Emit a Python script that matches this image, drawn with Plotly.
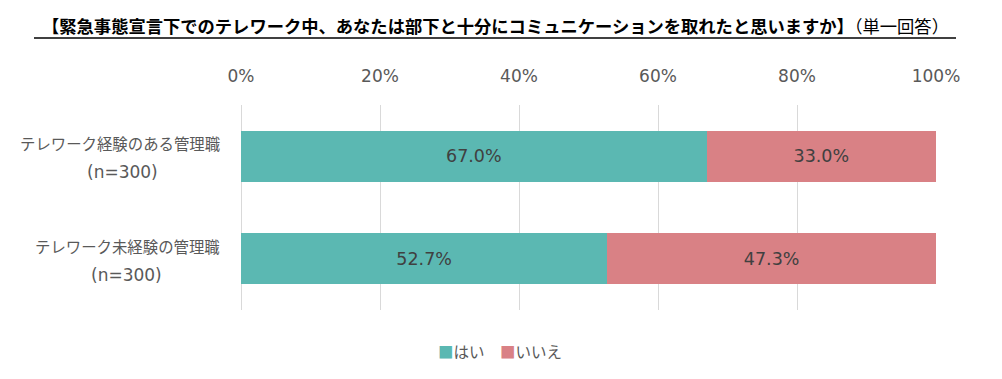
import plotly.graph_objects as go

cat_keys = ["経験あり", "未経験"]
cat_line1 = ["テレワーク経験のある管理職", "テレワーク未経験の管理職"]
cat_line2 = ["(n=300)", "(n=300)"]
yes_vals = [67.0, 52.7]
no_vals = [33.0, 47.3]
series_names = ["はい", "いいえ"]
tick_vals = [0, 20, 40, 60, 80, 100]
tick_text = ["0%", "20%", "40%", "60%", "80%", "100%"]

CJK = "Noto Sans CJK JP"
MIX = "DejaVu Sans, Noto Sans CJK JP"
GRAY = "#595959"
TEAL = "#5BB8B2"
PINK = "#D98185"

# page body has an 8px offset; layout below is in figure coordinates
L, R, T, B = 233, 74, 97, 77
W, H = 1002, 379
PW = W - L - R
PH = H - T - B


def px_x(xf):
    return (xf - L) / PW


def px_y(yf):
    return (H - B - yf) / PH


fig = go.Figure()
for vals, name, color in [(yes_vals, series_names[0], TEAL), (no_vals, series_names[1], PINK)]:
    fig.add_trace(go.Bar(
        y=cat_keys, x=vals, orientation="h", name=name,
        marker=dict(color=color, line=dict(width=0)),
        text=[f"{v:.1f}%" for v in vals], textposition="inside",
        insidetextanchor="middle", cliponaxis=False,
        textfont=dict(family=MIX, size=17.5, color="#404040"),
        showlegend=False,
    ))

line2_centers = [114, 119]
for key, l1, l2, c in zip(cat_keys, cat_line1, cat_line2, line2_centers):
    fig.add_annotation(
        x=px_x(214), xref="paper", y=key, yref="y", text=l1, yshift=13,
        showarrow=False, xanchor="right", yanchor="middle",
        font=dict(family=CJK, size=15.4, color=GRAY),
    )
    fig.add_annotation(
        x=px_x(c), xref="paper", y=key, yref="y", text=l2, yshift=-16,
        showarrow=False, xanchor="center", yanchor="middle",
        font=dict(family=MIX, size=17, color=GRAY),
    )

# title
fig.add_annotation(
    x=px_x(487), xref="paper", y=px_y(17), yref="paper", yanchor="middle", xanchor="center",
    text="<b>【緊急事態宣言下でのテレワーク中、あなたは部下と十分にコミュニケーションを取れたと思いますか】</b>（単一回答）",
    showarrow=False, font=dict(family=CJK, size=17.3, color="#000000"),
)
fig.add_shape(type="line", xref="paper", yref="paper",
              x0=px_x(26), x1=px_x(948), y0=px_y(30), y1=px_y(30),
              line=dict(color="black", width=1.5))

# legend
legend_text = (f"<span style='color:{TEAL}'>■</span>{series_names[0]}　"
               f"<span style='color:{PINK}'>■</span>{series_names[1]}")
fig.add_annotation(
    x=px_x(492), xref="paper", y=px_y(343), yref="paper", xanchor="center", yanchor="middle",
    text=legend_text, showarrow=False, font=dict(family=CJK, size=15.5, color=GRAY),
)

fig.update_layout(
    width=W, height=H,
    margin=dict(l=L, r=R, t=T, b=B),
    paper_bgcolor="white", plot_bgcolor="white",
    barmode="stack", bargap=0.5,
    showlegend=False,
    xaxis=dict(range=[0, 100], side="top", tickvals=tick_vals, ticktext=tick_text,
               showgrid=True, gridcolor="#D9D9D9", gridwidth=1.3,
               zeroline=True, zerolinecolor="#D9D9D9", zerolinewidth=1.3,
               showline=False, ticks="outside", ticklen=15, tickcolor="rgba(0,0,0,0)",
               tickfont=dict(family=MIX, size=17, color=GRAY), fixedrange=True),
    yaxis=dict(autorange="reversed", showticklabels=False, showgrid=False,
               zeroline=False, showline=False, fixedrange=True),
    font=dict(family=CJK),
)

fig.write_html("out.html")
